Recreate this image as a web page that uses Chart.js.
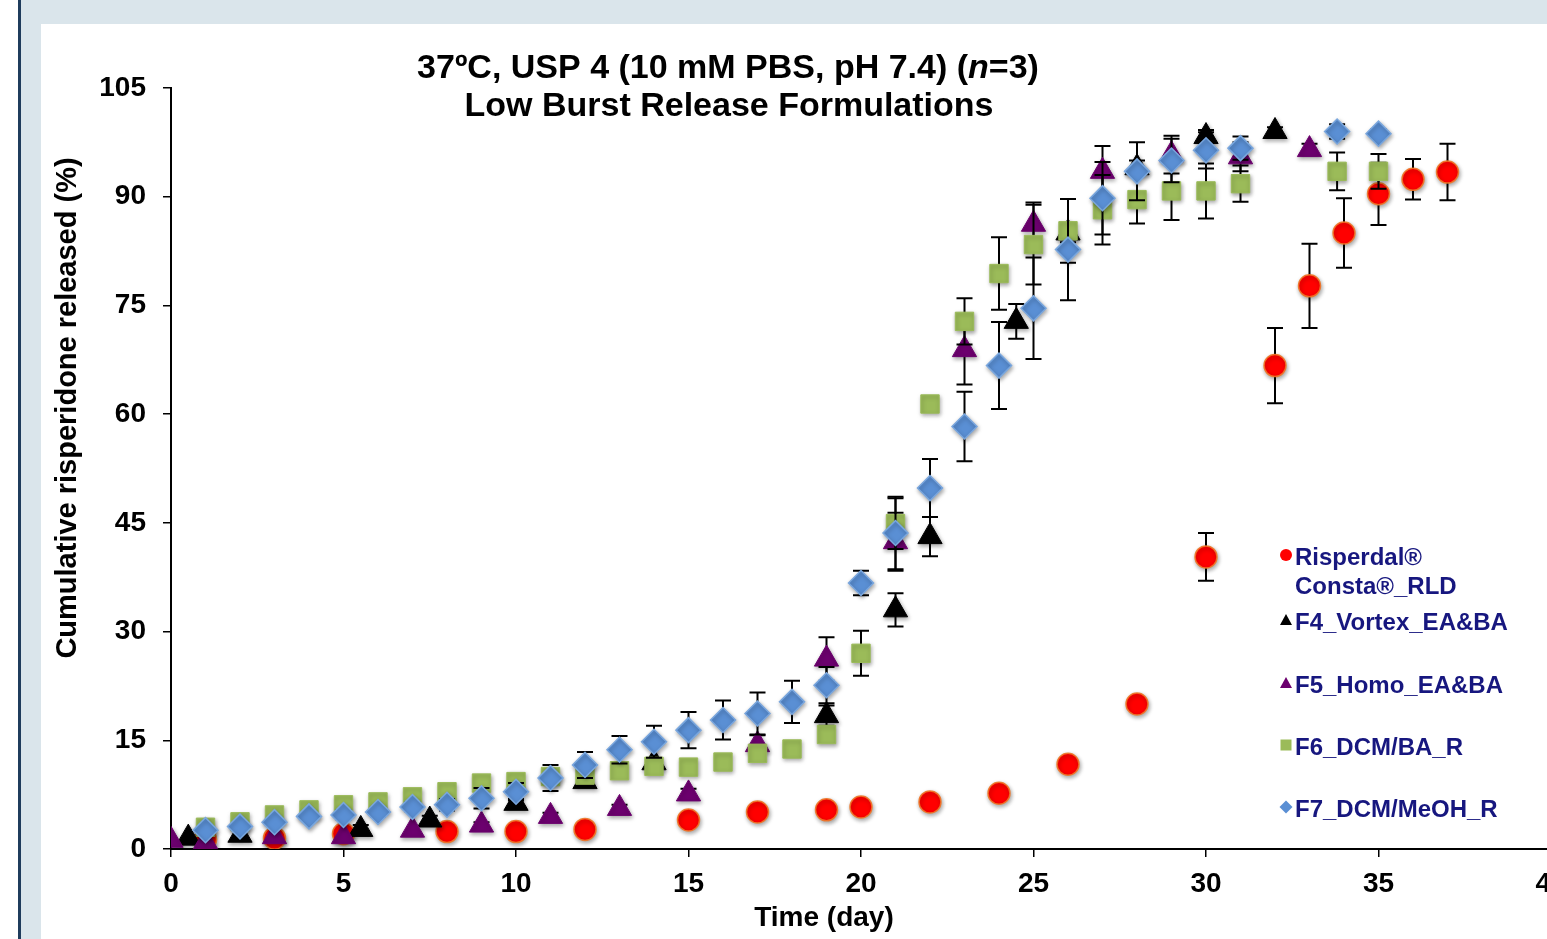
<!DOCTYPE html>
<html>
<head>
<meta charset="utf-8">
<script src="https://cdn.jsdelivr.net/npm/chart.js@4.4.1/dist/chart.umd.min.js"></script>
<style>
    html, body { margin: 0; padding: 0; overflow: hidden; }
    body { width: 1547px; height: 939px; background: #fff; position: relative; }
    .frame { position: absolute; left: 21px; top: 0; width: 1526px; height: 939px; background: #dae5eb; }
    .edge { position: absolute; left: 18px; top: 0; width: 3px; height: 939px; background: #1f3c5c; }
    .panel { position: absolute; left: 41px; top: 24px; width: 1580px; height: 915px; background: #fff; }
    canvas { position: absolute; left: 0; top: 0; }
</style>
</head>
<body>
<div class="frame"></div>
<div class="edge"></div>
<div class="panel">
    <canvas id="releaseChart" width="1580" height="915"></canvas>
</div>
<script>
// tick values
const xTicks = [0, 5, 10, 15, 20, 25, 30, 35, 40];
const yTicks = [0, 15, 30, 45, 60, 75, 90, 105];

// Risperdal Consta RLD
const rldDays = [1, 3, 5, 8, 10, 12, 15, 17, 19, 20, 22, 24, 26, 28, 30, 32, 33, 34, 35, 36, 37];
const rldVals = [1.3, 1.5, 2.1, 2.4, 2.4, 2.7, 4.0, 5.1, 5.4, 5.8, 6.5, 7.7, 11.7, 20.0, 40.3, 66.7, 77.7, 85.0, 90.4, 92.4, 93.4];
const rldErr  = [0, 0, 0, 0, 0, 0, 0, 0, 0, 0, 0, 0, 0, 0, 3.3, 5.2, 5.8, 4.8, 4.3, 2.8, 3.9];

// F4_Vortex_EA&BA
const f4Days = [0.5, 2, 5.5, 7.5, 10, 12, 14, 19, 21, 22, 24.5, 26, 28, 30, 32];
const f4Vals = [1.5, 1.9, 2.7, 4.0, 6.3, 9.3, 11.9, 18.4, 33.0, 43.1, 72.8, 85.0, 94.0, 98.3, 99.0];
const f4Err  = [0, 0, 0.6, 0.6, 0.6, 0.5, 0.6, 1.4, 2.3, 2.7, 2.4, 1.3, 1.0, 0.9, 0.6];

// F5_Homo_EA&BA
const f5Days = [0, 1, 3, 5, 7, 9, 11, 13, 15, 17, 19, 21, 23, 25, 27, 29, 31, 33];
const f5Vals = [1.2, 1.0, 1.7, 1.7, 2.6, 3.3, 4.5, 5.6, 7.6, 14.4, 26.2, 42.4, 68.9, 86.2, 93.5, 95.8, 95.5, 96.5];
const f5Err  = [0, 0, 0, 0, 0, 0.4, 0.5, 0.5, 0.7, 1.3, 3.0, 4.0, 4.8, 3.0, 3.5, 2.6, 2.0, 0.8];

// F6_DCM/BA_R
const f6Days = [1, 2, 3, 4, 5, 6, 7, 8, 9, 10, 11, 12, 13, 14, 15, 16, 17, 18, 19, 20, 21, 22, 23, 24, 25, 26, 27, 28, 29, 30, 31, 33.8, 35];
const f6Vals = [3.0, 3.75, 4.7, 5.4, 6.1, 6.5, 7.2, 7.9, 9.1, 9.3, 10.0, 10.2, 10.8, 11.4, 11.3, 12.0, 13.2, 13.8, 15.8, 27.0, 44.9, 61.4, 72.8, 79.4, 83.4, 85.3, 88.2, 89.6, 90.8, 90.8, 91.8, 93.5, 93.5];
const f6Err  = [0, 0, 0, 0, 0, 0, 0, 0, 0, 0, 0, 0, 0, 0, 0, 0, 0, 0, 0, 3.1, 3.5, 0, 3.2, 5.0, 5.5, 4.4, 4.8, 3.3, 4.0, 3.8, 2.5, 2.6, 2.4];

// F7_DCM/MeOH_R
const f7Days = [1, 2, 3, 4, 5, 6, 7, 8, 9, 10, 11, 12, 13, 14, 15, 16, 17, 18, 19, 20, 21, 22, 23, 24, 25, 26, 27, 28, 29, 30, 31, 33.8, 35];
const f7Vals = [2.6, 3.1, 3.7, 4.5, 4.7, 5.1, 5.8, 6.1, 7.0, 7.9, 9.8, 11.6, 13.7, 14.8, 16.4, 17.8, 18.7, 20.3, 22.6, 36.7, 43.6, 49.8, 58.3, 66.7, 74.6, 82.7, 89.8, 93.5, 95.0, 96.4, 96.7, 99.0, 98.7];
const f7Err  = [0.5, 0.5, 0.5, 0.5, 0.6, 0.6, 0.6, 0.8, 1.4, 1.2, 1.8, 1.8, 1.9, 2.2, 2.5, 2.7, 2.9, 2.9, 2.5, 1.7, 5.0, 4.0, 4.8, 6.0, 7.0, 7.0, 5.0, 4.0, 3.0, 2.5, 1.6, 1.0, 0.6];

const FONT = '"Liberation Sans", Arial, sans-serif';
const legendColor = '#17177f';

function points(days, vals) {
    return days.map(function(d, i) { return { x: d, y: vals[i] }; });
}

const errors = [rldErr, f4Err, f5Err, f6Err, f7Err];

// error bars drawn just before each series' markers
const errorBarPlugin = {
    id: 'errorBars',
    beforeDatasetDraw: function(chart, args) {
        const ctx = chart.ctx;
        const ds = chart.data.datasets[args.index];
        const errs = errors[args.index];
        const xs = chart.scales.x, ys = chart.scales.y;
        ctx.save();
        ctx.strokeStyle = '#000';
        ctx.lineWidth = 2;
        ds.data.forEach(function(p, i) {
            const e = errs[i];
            if (!e) return;
            const px = xs.getPixelForValue(p.x);
            const top = ys.getPixelForValue(p.y + e);
            const bot = ys.getPixelForValue(p.y - e);
            ctx.beginPath();
            ctx.moveTo(px, top); ctx.lineTo(px, bot);
            ctx.moveTo(px - 8, top); ctx.lineTo(px + 8, top);
            ctx.moveTo(px - 8, bot); ctx.lineTo(px + 8, bot);
            ctx.stroke();
        });
        ctx.restore();
        // soft marker shadow like the original
        ctx.save();
        ctx.shadowColor = 'rgba(0,0,0,0.35)';
        ctx.shadowBlur = 4;
        ctx.shadowOffsetX = 1;
        ctx.shadowOffsetY = 2;
    },
    afterDatasetDraw: function(chart) {
        chart.ctx.restore();
    }
};

function legendMarker(ctx, type, color, x, y) {
    ctx.fillStyle = color;
    ctx.beginPath();
    if (type === 'circle') {
        ctx.arc(x, y, 6, 0, Math.PI * 2);
    } else if (type === 'triangle') {
        ctx.moveTo(x, y - 6); ctx.lineTo(x + 6, y + 5); ctx.lineTo(x - 6, y + 5);
    } else if (type === 'rect') {
        ctx.rect(x - 5.5, y - 5.5, 11, 11);
    } else {
        ctx.moveTo(x, y - 6.5); ctx.lineTo(x + 6.5, y); ctx.lineTo(x, y + 6.5); ctx.lineTo(x - 6.5, y);
    }
    ctx.closePath();
    ctx.fill();
}

const textPlugin = {
    id: 'texts',
    afterDraw: function(chart) {
        const ctx = chart.ctx;
        ctx.save();
        ctx.fillStyle = '#000';
        ctx.textBaseline = 'middle';

        // title line 1 with italic n
        const bold = 'bold 34px ' + FONT;
        const ital = 'italic bold 34px ' + FONT;
        const segs = [['37\u00baC, USP 4 (10 mM PBS, pH 7.4) (', bold], ['n', ital], ['=3)', bold]];
        let total = 0;
        segs.forEach(function(s) { ctx.font = s[1]; total += ctx.measureText(s[0]).width; });
        let x = 687 - total / 2;
        ctx.textAlign = 'left';
        segs.forEach(function(s) { ctx.font = s[1]; ctx.fillText(s[0], x, 45); x += ctx.measureText(s[0]).width; });
        ctx.textAlign = 'center';
        ctx.font = bold;
        ctx.fillText('Low Burst Release Formulations', 688, 83);

        // axis titles
        ctx.font = 'bold 28px ' + FONT;
        ctx.fillText('Time (day)', 783, 894);
        ctx.save();
        ctx.translate(27, 384);
        ctx.rotate(-Math.PI / 2);
        ctx.font = 'bold 29px ' + FONT;
        ctx.fillText('Cumulative risperidone released (%)', 0, 0);
        ctx.restore();

        // legend
        const items = [
            ['Risperdal\u00ae', 'circle', '#ff0000', 531],
            ['F4_Vortex_EA&BA', 'triangle', '#000000', 596],
            ['F5_Homo_EA&BA', 'triangle', '#6c006e', 659],
            ['F6_DCM/BA_R', 'rect', '#9bbb59', 721],
            ['F7_DCM/MeOH_R', 'diamond', '#5a8fd4', 783]
        ];
        ctx.textAlign = 'left';
        ctx.font = 'bold 24px ' + FONT;
        items.forEach(function(it) {
            legendMarker(ctx, it[1], it[2], 1245, it[3]);
            ctx.fillStyle = legendColor;
            ctx.fillText(it[0], 1254, it[3] + 3);
        });
        ctx.fillText('Consta\u00ae_RLD', 1254, 563);
        ctx.restore();
    }
};

const ctx = document.getElementById('releaseChart').getContext('2d');
const releaseChart = new Chart(ctx, {
    type: 'scatter',
    data: {
        datasets: [
            { label: 'Risperdal\u00ae Consta\u00ae_RLD', data: points(rldDays, rldVals), order: 5,
              pointStyle: 'circle', pointRadius: 11, backgroundColor: '#ff0000', borderColor: 'rgba(240,120,40,0.9)', borderWidth: 1.5 },
            { label: 'F4_Vortex_EA&BA', data: points(f4Days, f4Vals), order: 4,
              pointStyle: 'triangle', pointRadius: 14, backgroundColor: '#000000', borderColor: '#000000', borderWidth: 1 },
            { label: 'F5_Homo_EA&BA', data: points(f5Days, f5Vals), order: 3,
              pointStyle: 'triangle', pointRadius: 14, backgroundColor: '#6c006e', borderColor: '#6c006e', borderWidth: 1 },
            { label: 'F6_DCM/BA_R', data: points(f6Days, f6Vals), order: 2,
              pointStyle: 'rect', pointRadius: 13, backgroundColor: '#9bbb59', borderColor: '#9bbb59', borderWidth: 1 },
            { label: 'F7_DCM/MeOH_R', data: points(f7Days, f7Vals), order: 1,
              pointStyle: 'rectRot', pointRadius: 12.5, backgroundColor: '#5a8fd4', borderColor: '#7aa7de', borderWidth: 1.5 }
        ]
    },
    options: {
        responsive: false,
        animation: false,
        layout: { padding: { left: 0, right: 70, top: 64, bottom: 0 } },
        plugins: {
            legend: { display: false },
            tooltip: { enabled: false },
            title: { display: false }
        },
        scales: {
            x: {
                type: 'linear',
                min: 0,
                max: 40,
                afterBuildTicks: function(scale) { scale.ticks = xTicks.map(function(v) { return { value: v }; }); },
                afterFit: function(scale) { scale.height = 90; scale.paddingLeft = 0; scale.paddingRight = 0; },
                border: { display: true, color: '#000', width: 2 },
                grid: { drawOnChartArea: false, drawTicks: true, tickLength: 8, color: '#000', lineWidth: 1.5 },
                ticks: { color: '#000', padding: 10, font: { family: FONT, size: 28, weight: 'bold' } }
            },
            y: {
                type: 'linear',
                min: 0,
                max: 105,
                afterBuildTicks: function(scale) { scale.ticks = yTicks.map(function(v) { return { value: v }; }); },
                afterFit: function(scale) { scale.width = 130; scale.paddingTop = 0; scale.paddingBottom = 0; },
                border: { display: true, color: '#000', width: 2 },
                grid: { drawOnChartArea: false, drawTicks: true, tickLength: 8, color: '#000', lineWidth: 1.5 },
                ticks: { color: '#000', padding: 17, font: { family: FONT, size: 28, weight: 'bold' } }
            }
        }
    },
    plugins: [errorBarPlugin, textPlugin]
});
</script>
</body>
</html>
